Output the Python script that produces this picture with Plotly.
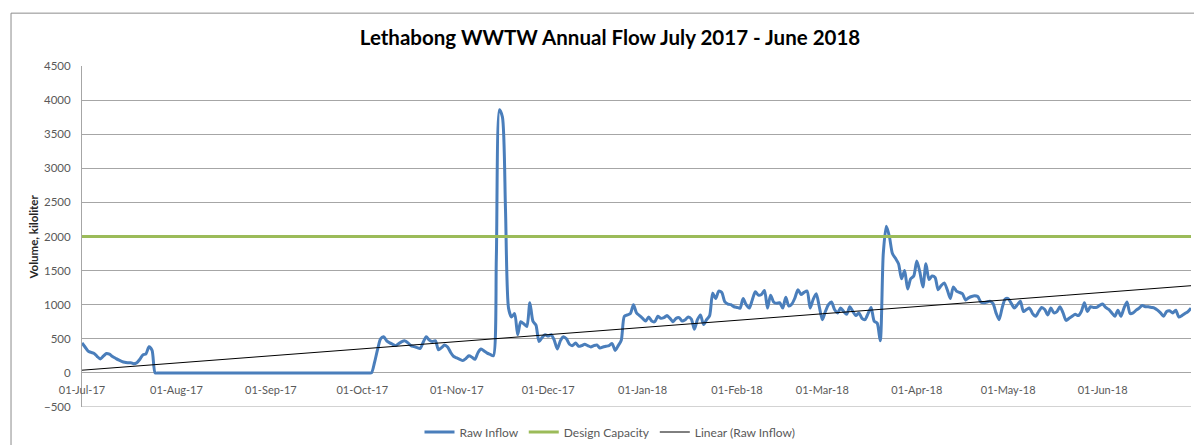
import numpy as np
import pandas as pd
import plotly.graph_objects as go

# Daily raw inflow at Lethabong WWTW (kilolitres), July 2017 - June 2018
jul_17 = [440, 380, 320, 300, 285, 240, 205, 245, 285, 275, 240, 215, 190, 170, 155, 150,
          150, 135, 150, 200, 265, 280, 385, 330, 0, 0, 0, 0, 0, 0, 0]
aug_17 = [0, 0, 0, 0, 0, 0, 0, 0, 0, 0, 0, 0, 0, 0, 0, 0,
          0, 0, 0, 0, 0, 0, 0, 0, 0, 0, 0, 0, 0, 0, 0]
sep_17 = [0, 0, 0, 0, 0, 0, 0, 0, 0, 0, 0, 0, 0, 0, 0,
          0, 0, 0, 0, 0, 0, 0, 0, 0, 0, 0, 0, 0, 0, 0]
oct_17 = [0, 0, 0, 0, 150, 340, 500, 530, 470, 440, 420, 400, 430, 460, 470, 440,
          400, 385, 370, 360, 450, 530, 480, 460, 470, 340, 370, 410, 380, 300, 240]
nov_17 = [220, 200, 180, 210, 250, 230, 200, 300, 350, 320, 290, 270, 250, 1700, 3860,
          3750, 2400, 950, 820, 870, 560, 750, 720, 680, 1030, 760, 700, 460, 520, 560]
dec_17 = [540, 560, 480, 350, 470, 530, 500, 420, 400, 440, 390, 400, 420, 400, 380, 400,
          410, 365, 380, 390, 400, 430, 330, 400, 480, 830, 850, 870, 1000, 880, 840]
jan_18 = [800, 760, 820, 760, 750, 830, 800, 810, 840, 800, 750, 800, 810, 760, 780, 820,
          790, 640, 780, 850, 710, 780, 840, 1170, 1090, 1200, 1180, 1040, 1010, 1000, 970]
feb_18 = [960, 950, 1090, 1000, 950, 1070, 1190, 1140, 1150, 1210, 950, 1140, 1040, 1020,
          1030, 950, 1110, 980, 1010, 1100, 1220, 1150, 1180, 1200, 950, 1080, 1160, 970]
mar_18 = [780, 900, 1000, 1040, 930, 880, 950, 900, 860, 970, 900, 840, 880, 800, 780, 870,
          960, 760, 730, 470, 1750, 2150, 2000, 1750, 1680, 1600, 1380, 1500, 1230, 1380, 1420]
apr_18 = [1640, 1480, 1260, 1600, 1370, 1420, 1400, 1220, 1280, 1320, 1220, 1090, 1260, 1200,
          1180, 1160, 1070, 1100, 1120, 1130, 1120, 1040, 1030, 1040, 1050, 1020, 880, 780, 950, 1080]
may_18 = [1090, 1020, 950, 1000, 1050, 900, 930, 950, 870, 830, 900, 960, 930, 850, 950, 880,
          900, 970, 880, 770, 800, 830, 860, 840, 900, 1030, 900, 970, 960, 960, 990]
jun_18 = [1010, 960, 930, 880, 830, 920, 830, 950, 1040, 870, 880, 920, 950, 990, 970,
          970, 960, 950, 920, 880, 830, 900, 910, 880, 920, 820, 840, 870, 900, 950]

months = [jul_17, aug_17, sep_17, oct_17, nov_17, dec_17,
          jan_18, feb_18, mar_18, apr_18, may_18, jun_18]
raw_inflow = [v for m in months for v in m]
dates = pd.date_range("2017-07-01", periods=len(raw_inflow), freq="D")

design_capacity = 2000  # kl/day

# Linear trend of the raw inflow (least squares on day number)
day_no = np.arange(len(raw_inflow))
slope, intercept = np.polyfit(day_no, raw_inflow, 1)
trend = slope * day_no + intercept

FONT = "Lato"
GREY_TXT = "#595959"
GRID = "#a6a6a6"

fig = go.Figure()
fig.add_trace(go.Scatter(
    x=dates, y=raw_inflow, name="Raw Inflow", mode="lines",
    line=dict(color="#4a7ebb", width=3, shape="spline", smoothing=0.7),
))
fig.add_trace(go.Scatter(
    x=dates, y=[design_capacity] * len(dates), name="Design Capacity", mode="lines",
    line=dict(color="#9bbb59", width=3),
))
fig.add_trace(go.Scatter(
    x=dates, y=trend, name="Linear (Raw Inflow)", mode="lines",
    line=dict(color="#000000", width=1),
))

y_min, y_max = -500, 4500

fig.update_layout(
    width=1194, height=445,
    margin=dict(l=82, r=3, t=66, b=38, autoexpand=False),
    paper_bgcolor="white", plot_bgcolor="white",
    font=dict(family=FONT, size=11, color=GREY_TXT),
    title=dict(
        text="<b>Lethabong WWTW Annual Flow July 2017 - June 2018</b>",
        x=610 / 1194, xanchor="center", y=1 - 38 / 445, yanchor="middle",
        font=dict(family=FONT, size=20.5, color="#000000"),
    ),
    showlegend=True,
    legend=dict(
        orientation="h", x=610 / 1194, xref="container", xanchor="center",
        y=1 - 432 / 445, yref="container", yanchor="middle",
        font=dict(family=FONT, size=12, color=GREY_TXT), bgcolor="rgba(0,0,0,0)",
        itemwidth=30, tracegroupgap=0,
    ),
    xaxis=dict(
        type="date", range=["2017-07-01", "2018-06-30"],
        anchor="free", position=(0 - y_min) / (y_max - y_min),
        tickformat="%d-%b-%y", dtick="M1", tick0="2017-07-01",
        showgrid=False, showline=False, zeroline=False, ticks="",
        tickfont=dict(family=FONT, size=11, color=GREY_TXT),
        ticklabelstandoff=9,
    ),
    yaxis=dict(
        range=[y_min, y_max], dtick=500, tick0=0,
        showgrid=True, gridcolor=GRID, gridwidth=1,
        showline=True, linecolor=GRID, linewidth=1, zeroline=False,
        ticks="", tickfont=dict(family=FONT, size=11.5, color=GREY_TXT),
        ticklabelstandoff=8,
    ),
    annotations=[dict(
        text="<b>Volume, kiloliter</b>", textangle=-90,
        x=-0.0433, y=0.5, xref="paper", yref="paper",
        xanchor="center", yanchor="middle", showarrow=False,
        font=dict(family=FONT, size=11.5, color="#262626"),
    )],
    shapes=[
        # bottom edge of the plot area
        dict(type="line", xref="paper", yref="y", x0=0, x1=1, y0=y_min, y1=y_min,
             line=dict(color=GRID, width=1)),
        # outer chart frame
        dict(type="rect", xref="paper", yref="paper", x0=-0.064, x1=1.2, y0=-0.6, y1=1.155,
             line=dict(color="#8c8c8c", width=1), layer="below"),
    ],
)

fig.write_html("out.html")
